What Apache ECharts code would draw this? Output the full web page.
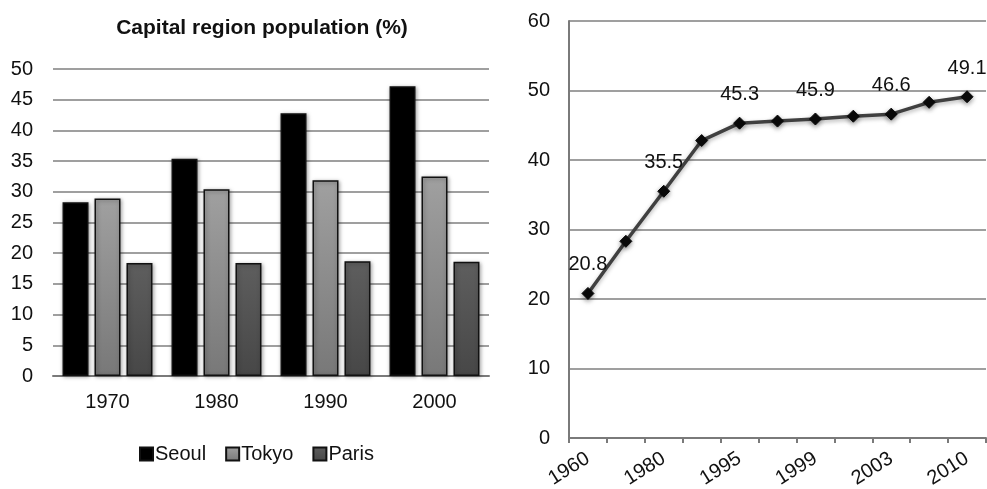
<!DOCTYPE html>
<html>
<head>
<meta charset="utf-8">
<script src="https://cdn.jsdelivr.net/npm/echarts@6/dist/echarts.min.js"></script>
<style>
html,body{margin:0;padding:0;background:#fff;}
#c{width:987px;height:489px;}
</style>
</head>
<body>
<div id="c"></div>
<script>
// Left chart data
var barCategories = ['1970', '1980', '1990', '2000'];
var seoul = [28.3, 35.4, 42.8, 47.2];
var tokyo = [28.9, 30.4, 31.9, 32.5];
var paris = [18.4, 18.4, 18.7, 18.6];
var barTicks = [0, 5, 10, 15, 20, 25, 30, 35, 40, 45, 50];

// Right chart data
var lineCategories = ['1960', '1970', '1980', '1990', '1995', '1997', '1999', '2001', '2003', '2005', '2010'];
var seoulShare = [20.8, 28.3, 35.5, 42.8, 45.3, 45.6, 45.9, 46.3, 46.6, 48.3, 49.1];
var labelledIndices = [0, 2, 4, 6, 8, 10];

var font = 'Liberation Sans, Arial, Helvetica, sans-serif';
var chart = echarts.init(document.getElementById('c'), null, {renderer: 'canvas'});

function grad(top, bottom) {
  return new echarts.graphic.LinearGradient(0, 0, 0, 1, [
    {offset: 0, color: top}, {offset: 1, color: bottom}
  ]);
}
var barBase = {
  type: 'bar', xAxisIndex: 0, yAxisIndex: 0, barWidth: 26, barGap: '23%',
  itemStyle: {borderColor: '#111', borderWidth: 1.5, shadowColor: 'rgba(0,0,0,0.35)', shadowBlur: 4, shadowOffsetX: 1, shadowOffsetY: 1}
};

var lineData = seoulShare.map(function (v, i) {
  return {value: v, label: {show: labelledIndices.indexOf(i) >= 0}};
});

chart.setOption({
  animation: false,
  textStyle: {fontFamily: font},
  title: {
    text: 'Capital region population (%)', left: 257, top: 13, textAlign: 'center',
    textStyle: {fontFamily: font, fontSize: 21, fontWeight: 'bold', color: '#111'}
  },
  legend: {
    data: ['Seoul', 'Tokyo', 'Paris'], left: 134, top: 439,
    itemWidth: 13, itemHeight: 13, itemGap: 19, icon: 'rect',
    textStyle: {fontFamily: font, fontSize: 20, color: '#111', padding: [0, 0, 0, -3]}
  },
  grid: [
    {left: 53, right: 498, top: 69, bottom: 113, outerBoundsMode: 'none', containLabel: false},
    {left: 569, right: 1, top: 21, bottom: 51, outerBoundsMode: 'none', containLabel: false}
  ],
  xAxis: [
    {
      type: 'category', gridIndex: 0, data: barCategories,
      axisLine: {lineStyle: {color: '#7a7a7a', width: 2}},
      axisTick: {show: false},
      axisLabel: {color: '#111', fontSize: 20, margin: 16, fontFamily: font}
    },
    {
      type: 'category', gridIndex: 1, data: lineCategories,
      axisLine: {lineStyle: {color: '#7a7a7a', width: 2}},
      axisTick: {show: true, interval: 0, length: 5, lineStyle: {color: '#7a7a7a', width: 2}},
      axisLabel: {color: '#111', fontSize: 20, margin: 19, rotate: 32, interval: 1, fontFamily: font}
    }
  ],
  yAxis: [
    {
      type: 'value', gridIndex: 0, min: barTicks[0], max: barTicks[barTicks.length - 1], interval: 5,
      axisLine: {show: false}, axisTick: {show: false},
      splitLine: {lineStyle: {color: '#7f7f7f', width: 1.5}},
      axisLabel: {color: '#111', fontSize: 20, margin: 20, fontFamily: font}
    },
    {
      type: 'value', gridIndex: 1, min: 0, max: 60, interval: 10,
      axisLine: {show: true, lineStyle: {color: '#7a7a7a', width: 2}}, axisTick: {show: false},
      splitLine: {lineStyle: {color: '#7f7f7f', width: 1.5}},
      axisLabel: {color: '#111', fontSize: 20, margin: 19, fontFamily: font}
    }
  ],
  series: [
    Object.assign({}, barBase, {name: 'Seoul', data: seoul, itemStyle: Object.assign({}, barBase.itemStyle, {color: '#000'})}),
    Object.assign({}, barBase, {name: 'Tokyo', data: tokyo, itemStyle: Object.assign({}, barBase.itemStyle, {color: grad('#a0a0a0', '#787878')})}),
    Object.assign({}, barBase, {name: 'Paris', data: paris, itemStyle: Object.assign({}, barBase.itemStyle, {color: grad('#5e5e5e', '#474747')})}),
    {
      type: 'line', xAxisIndex: 1, yAxisIndex: 1, data: lineData,
      symbol: 'diamond', symbolSize: 12,
      lineStyle: {color: '#404040', width: 3.5, shadowColor: 'rgba(0,0,0,0.3)', shadowBlur: 4, shadowOffsetY: 2},
      itemStyle: {color: '#0a0a0a', borderColor: '#0a0a0a', shadowColor: 'rgba(0,0,0,0.4)', shadowBlur: 5, shadowOffsetY: 2},
      label: {position: 'top', distance: 12, fontSize: 20, color: '#111', fontFamily: font}
    }
  ]
});
</script>
</body>
</html>
